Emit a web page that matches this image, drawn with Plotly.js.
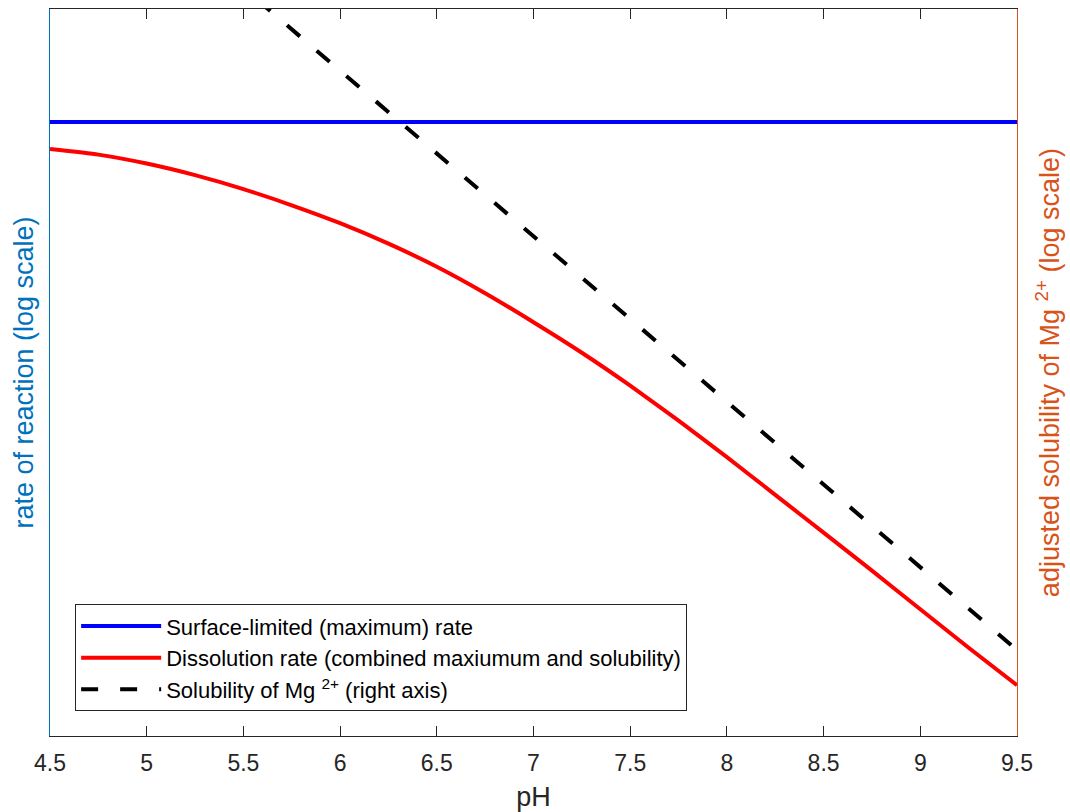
<!DOCTYPE html>
<html>
<head>
<meta charset="utf-8">
<script src="https://cdn.plot.ly/plotly-3.0.1.min.js"></script>
<style>
  html, body { margin: 0; padding: 0; background: #ffffff; }
  #chart { width: 1070px; height: 812px; }
</style>
</head>
<body>
<div id="chart"></div>
<script>
// pH grid for the rate curves
const pH = [4.5, 4.75, 5.0, 5.25, 5.5, 5.75, 6.0, 6.25, 6.5, 6.75, 7.0,
            7.25, 7.5, 7.75, 8.0, 8.25, 8.5, 8.75, 9.0, 9.25, 9.5];

// Surface-limited (maximum) rate, left axis (arbitrary units, log scale)
const surfaceRate = [1e-2, 1e-2, 1e-2, 1e-2, 1e-2, 1e-2, 1e-2, 1e-2, 1e-2, 1e-2, 1e-2,
                     1e-2, 1e-2, 1e-2, 1e-2, 1e-2, 1e-2, 1e-2, 1e-2, 1e-2, 1e-2];

// Dissolution rate (combined maximum and solubility), left axis
const dissolutionRate = [5.37e-3, 4.72e-3, 3.84e-3, 2.94e-3, 2.13e-3, 1.47e-3, 9.73e-4,
                         6.07e-4, 3.57e-4, 1.94e-4, 9.95e-5, 4.93e-5, 2.31e-5, 1.03e-5,
                         4.45e-6, 1.87e-6, 7.82e-7, 3.26e-7, 1.34e-7, 5.53e-8, 2.33e-8];

// Solubility of Mg2+ (right axis, log scale)
const solubilityPH = [4.5, 5.0, 5.5, 6.0, 6.5, 7.0, 7.5, 8.0, 8.5, 9.0, 9.5];
const solubilityMg = [5.6e7, 5.6e6, 5.6e5, 5.6e4, 5.6e3, 5.6e2, 5.6e1, 5.6, 0.56, 0.056, 0.0056];

// x tick values and labels
const xTickVals = [4.5, 5, 5.5, 6, 6.5, 7, 7.5, 8, 8.5, 9, 9.5];
const xTickText = ['4.5', '5', '5.5', '6', '6.5', '7', '7.5', '8', '8.5', '9', '9.5'];

const FONT = 'Liberation Sans, Arial, Helvetica, sans-serif';
const AXIS_DARK = '#262626';
const LEFT_COLOR = '#0072BD';
const RIGHT_COLOR = '#D95319';

const traces = [
  {
    x: pH, y: surfaceRate, type: 'scatter', mode: 'lines',
    name: 'Surface-limited (maximum) rate',
    line: { color: '#0000FF', width: 4 },
    yaxis: 'y'
  },
  {
    x: pH, y: dissolutionRate, type: 'scatter', mode: 'lines',
    name: 'Dissolution rate (combined maxiumum and solubility)',
    line: { color: '#FF0000', width: 4, shape: 'spline', smoothing: 0.5 },
    yaxis: 'y'
  },
  {
    x: solubilityPH, y: solubilityMg, type: 'scatter', mode: 'lines',
    name: 'Solubility of Mg <sup>2+</sup> (right axis)',
    line: { color: '#000000', width: 4, dash: '17px,22px' },
    yaxis: 'y2'
  }
];

const layout = {
  width: 1070, height: 812,
  margin: { l: 50, r: 53, t: 9, b: 76 },
  paper_bgcolor: '#ffffff',
  plot_bgcolor: '#ffffff',
  font: { family: FONT, color: AXIS_DARK, size: 22 },
  showlegend: true,
  legend: {
    x: 0.026, y: 0.034, xanchor: 'left', yanchor: 'bottom',
    bgcolor: '#ffffff', bordercolor: AXIS_DARK, borderwidth: 1,
    font: { family: FONT, size: 22, color: '#000000' },
    itemwidth: 80,
    tracegroupgap: 0
  },
  xaxis: {
    range: [4.5, 9.5],
    tickmode: 'array', tickvals: xTickVals, ticktext: xTickText,
    ticks: 'inside', ticklen: 10, tickwidth: 1, tickcolor: AXIS_DARK,
    ticklabelstandoff: 6,
    showline: true, linecolor: AXIS_DARK, linewidth: 1, mirror: 'ticks',
    showgrid: false, zeroline: false,
    tickfont: { family: FONT, size: 23, color: AXIS_DARK },
    title: { text: 'pH', font: { family: FONT, size: 27, color: AXIS_DARK }, standoff: 17 }
  },
  yaxis: {
    type: 'log',
    range: [-8.14, -0.87],
    showline: true, linecolor: LEFT_COLOR, linewidth: 1,
    ticks: '', showticklabels: false, showgrid: false, zeroline: false,
    title: { text: 'rate of reaction (log scale)', font: { family: FONT, size: 27, color: LEFT_COLOR }, standoff: 7 }
  },
  yaxis2: {
    type: 'log',
    range: [-3.291, 5.494],
    overlaying: 'y', side: 'right',
    showline: true, linecolor: RIGHT_COLOR, linewidth: 1,
    ticks: '', showticklabels: false, showgrid: false, zeroline: false,
    title: { text: 'adjusted solubility of Mg <sup>2+</sup> (log scale)', font: { family: FONT, size: 27, color: RIGHT_COLOR }, standoff: 23 }
  }
};

Plotly.newPlot('chart', traces, layout, { displayModeBar: false, staticPlot: true });
</script>
</body>
</html>
